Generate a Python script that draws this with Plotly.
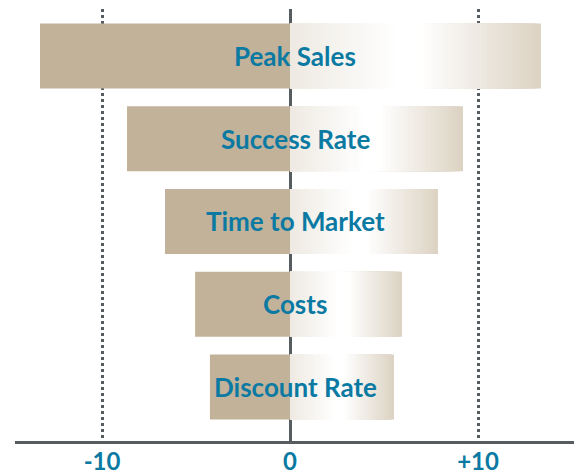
import plotly.graph_objects as go

categories = ["Peak Sales", "Success Rate", "Time to Market", "Costs", "Discount Rate"]
low_vals = [-13.3, -8.67, -6.65, -5.05, -4.26]
high_vals = [13.35, 9.2, 7.87, 5.96, 5.53]
tick_vals = [-10, 0, 10]
tick_text = ["-10", "0", "+10"]

TAN = (195, 178, 154)
START = (238, 234, 226)
END = (220, 210, 194)
BLUE = "#0b7aa3"
DARK = "#555d60"


def grad(t):
    # light -> white -> tan across the positive bar
    if t < 0.43:
        a, b, f = START, (255, 255, 255), t / 0.43
    elif t < 0.52:
        return "rgb(255,255,255)"
    else:
        a, b, f = (255, 255, 255), END, (t - 0.52) / 0.48
    c = [round(a[i] + (b[i] - a[i]) * f) for i in range(3)]
    return f"rgb({c[0]},{c[1]},{c[2]})"


fig = go.Figure()
fig.add_bar(y=categories, x=low_vals, orientation="h", width=0.785,
            marker=dict(color="rgb(%d,%d,%d)" % TAN, line_width=0), hoverinfo="skip")

N = 60
for k in range(N):
    frac = (N - k) / N
    fig.add_bar(y=categories, x=[v * frac for v in high_vals], orientation="h", width=0.785,
                marker=dict(color=grad(frac - 0.5 / N), line_width=0), hoverinfo="skip")

for c in categories:
    fig.add_annotation(x=0, y=c, text=f"<b>{c}</b>", showarrow=False, xshift=5,
                       font=dict(family="Lato", size=26, color=BLUE))

# page body has an 8px margin, so the figure is sized 8px smaller
fig.update_layout(
    width=574, height=468,
    margin=dict(l=7, r=7, t=1, b=35),
    barmode="overlay",
    showlegend=False,
    plot_bgcolor="white",
    paper_bgcolor="white",
    xaxis=dict(
        range=[-14.63, 15.16],
        tickvals=tick_vals, ticktext=tick_text,
        tickfont=dict(family="Lato", size=24, color=BLUE, weight="bold"),
        ticks="", ticklabelstandoff=-3,
        showgrid=True, gridcolor=DARK, griddash="dot", gridwidth=2.5,
        zeroline=True, zerolinecolor=DARK, zerolinewidth=3,
        showline=True, linecolor=DARK, linewidth=3,
        automargin=False, fixedrange=True,
    ),
    yaxis=dict(
        categoryorder="array", categoryarray=categories,
        range=[4.653, -0.568],
        showticklabels=False, showgrid=False, zeroline=False,
        automargin=False, fixedrange=True,
    ),
)

fig.write_html("out.html")
